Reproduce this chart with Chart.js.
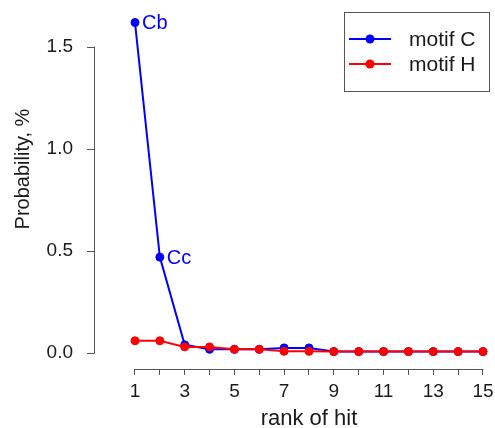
<!DOCTYPE html>
<html>
<head>
<meta charset="utf-8">
<script src="https://cdn.jsdelivr.net/npm/chart.js@4/dist/chart.umd.min.js"></script>
<style>
  html, body { margin: 0; padding: 0; background: #fff; }
  #wrap { width: 495px; height: 428px; position: relative; }
</style>
</head>
<body>
<div id="wrap"><canvas id="c" width="495" height="428"></canvas></div>
<script>
// ---- data ----
const rank = [1, 2, 3, 4, 5, 6, 7, 8, 9, 10, 11, 12, 13, 14, 15];
const motifC = [1.62, 0.47, 0.04, 0.018, 0.018, 0.018, 0.025, 0.025, 0.007, 0.007, 0.007, 0.007, 0.007, 0.007, 0.007];
const motifH = [0.06, 0.06, 0.03, 0.03, 0.018, 0.018, 0.008, 0.008, 0.007, 0.007, 0.007, 0.007, 0.007, 0.007, 0.007];
const motifCPointLabels = ['Cb', 'Cc', '', '', '', '', '', '', '', '', '', '', '', '', ''];
const seriesNames = ['motif C', 'motif H'];
const xTicks = [1, 2, 3, 4, 5, 6, 7, 8, 9, 10, 11, 12, 13, 14, 15];
const xTickLabels = ['1', '', '3', '', '5', '', '7', '', '9', '', '11', '', '13', '', '15'];
const yTicks = [0, 0.5, 1.0, 1.5];
const yTickLabels = ['0.0', '0.5', '1.0', '1.5'];
const xTitle = 'rank of hit';
const yTitle = 'Probability, %';

// ---- styles ----
const BLUE = '#0000FF';
const RED = '#FF0000';
const AXIS = '#555555';
const TEXT = '#1a1a1a';
const FONT = '"Liberation Sans", Arial, Helvetica, sans-serif';

const extras = {
  id: 'extras',
  afterDraw(chart) {
    const ctx = chart.ctx;
    const xs = chart.scales.x, ys = chart.scales.y;
    const area = chart.chartArea;
    ctx.save();
    // axis lines (R style: span first to last tick)
    ctx.strokeStyle = AXIS;
    ctx.lineWidth = 1;
    ctx.beginPath();
    const yl = Math.round(area.left) + 0.5;
    ctx.moveTo(yl, ys.getPixelForValue(yTicks[0]) + 0.5);
    ctx.lineTo(yl, ys.getPixelForValue(yTicks[yTicks.length - 1]) - 0.5);
    const xl = Math.round(area.bottom) + 0.5;
    ctx.moveTo(xs.getPixelForValue(xTicks[0]) - 0.5, xl);
    ctx.lineTo(xs.getPixelForValue(xTicks[xTicks.length - 1]) + 0.5, xl);
    ctx.stroke();

    // point annotations for motif C
    const metaC = chart.getDatasetMeta(0);
    ctx.fillStyle = BLUE;
    ctx.font = '20px ' + FONT;
    ctx.textAlign = 'left';
    ctx.textBaseline = 'middle';
    motifCPointLabels.forEach((lab, i) => {
      if (!lab) return;
      const el = metaC.data[i];
      ctx.fillText(lab, el.x + 7, el.y + 1);
    });

    // axis titles
    ctx.fillStyle = TEXT;
    ctx.textAlign = 'center';
    ctx.textBaseline = 'alphabetic';
    const xc = (xs.getPixelForValue(xTicks[0]) + xs.getPixelForValue(xTicks[xTicks.length - 1])) / 2;
    ctx.font = '22px ' + FONT;
    ctx.fillText(xTitle, xc, 425);
    ctx.font = '20px ' + FONT;
    ctx.save();
    ctx.translate(29, 169);
    ctx.rotate(-Math.PI / 2);
    ctx.fillText(yTitle, 0, 0);
    ctx.restore();

    // legend box
    const lx = 344.5, ly = 12.5, lw = 145, lh = 79;
    ctx.strokeStyle = AXIS;
    ctx.lineWidth = 1;
    ctx.strokeRect(lx, ly, lw, lh);
    const rows = [39, 64];
    [0, 1].forEach(k => {
      const ds = chart.data.datasets[k];
      const cy = rows[k];
      ctx.strokeStyle = ds.borderColor;
      ctx.lineWidth = 2;
      ctx.beginPath();
      ctx.moveTo(349, cy);
      ctx.lineTo(391, cy);
      ctx.stroke();
      ctx.fillStyle = ds.borderColor;
      ctx.beginPath();
      ctx.arc(370, cy, 4.5, 0, Math.PI * 2);
      ctx.fill();
      ctx.fillStyle = TEXT;
      ctx.font = '21px ' + FONT;
      ctx.textAlign = 'left';
      ctx.textBaseline = 'middle';
      ctx.fillText(ds.label, 409, cy + 1);
    });
    ctx.restore();
  }
};

new Chart(document.getElementById('c'), {
  type: 'line',
  data: {
    datasets: [
      {
        label: seriesNames[0],
        data: rank.map((r, i) => ({ x: r, y: motifC[i] })),
        borderColor: BLUE, backgroundColor: BLUE,
        pointBackgroundColor: BLUE, pointBorderColor: BLUE,
        borderWidth: 2, pointRadius: 4, pointBorderWidth: 1,
        tension: 0, order: 1
      },
      {
        label: seriesNames[1],
        data: rank.map((r, i) => ({ x: r, y: motifH[i] })),
        borderColor: RED, backgroundColor: RED,
        pointBackgroundColor: RED, pointBorderColor: RED,
        borderWidth: 2, pointRadius: 4, pointBorderWidth: 1,
        tension: 0, order: 0
      }
    ]
  },
  options: {
    responsive: false,
    animation: false,
    events: [],
    layout: { autoPadding: false, padding: { top: 10, left: 0, right: 0, bottom: 0 } },
    plugins: { legend: { display: false }, title: { display: false }, tooltip: { enabled: false } },
    scales: {
      x: {
        type: 'linear',
        min: -0.6494, max: 15.483,
        afterBuildTicks: s => { s.ticks = xTicks.map(v => ({ value: v })); },
        afterFit: s => { s.height = 59; s.paddingLeft = 0; s.paddingRight = 0; s.paddingTop = 0; s.paddingBottom = 0; },
        border: { display: false },
        grid: { drawOnChartArea: false, drawTicks: true, tickLength: 6, color: AXIS, lineWidth: 1 },
        ticks: {
          autoSkip: false, maxRotation: 0, padding: 5,
          color: TEXT, font: { size: 19, family: FONT },
          callback: (v, i) => xTickLabels[i]
        }
      },
      y: {
        type: 'linear',
        min: -0.0784, max: 1.6814,
        afterBuildTicks: s => { s.ticks = yTicks.map(v => ({ value: v })); },
        afterFit: s => { s.width = 94; s.paddingLeft = 0; s.paddingRight = 0; s.paddingTop = 0; s.paddingBottom = 0; },
        border: { display: false },
        grid: { drawOnChartArea: false, drawTicks: true, tickLength: 7, color: AXIS, lineWidth: 1 },
        ticks: {
          autoSkip: false, padding: 14,
          color: TEXT, font: { size: 19, family: FONT },
          callback: (v, i) => yTickLabels[i]
        }
      }
    }
  },
  plugins: [extras]
});
</script>
</body>
</html>
